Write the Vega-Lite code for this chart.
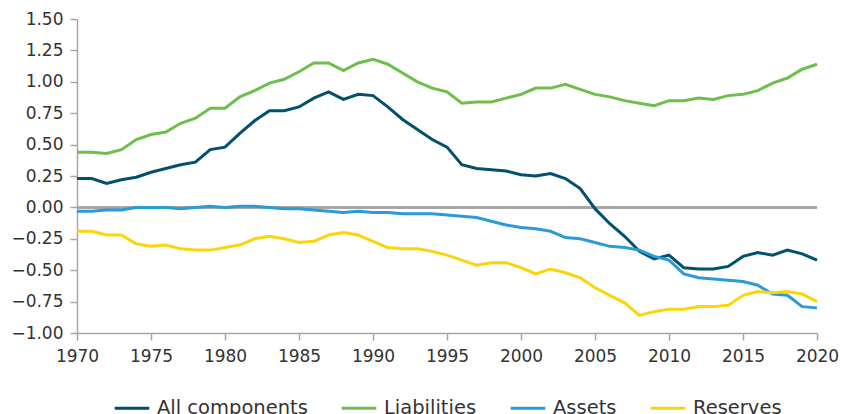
{
  "$schema": "https://vega.github.io/schema/vega-lite/v6.json",
  "width": 740,
  "height": 314,
  "autosize": "none",
  "padding": {"left": 77, "top": 19, "right": 25, "bottom": 81},
  "background": "white",
  "config": {
    "view": {"stroke": null},
    "font": "DejaVu Sans",
    "axis": {
      "labelFont": "DejaVu Sans",
      "labelFontSize": 17,
      "labelColor": "#333333",
      "domainColor": "#a6a6a6",
      "tickColor": "#a6a6a6",
      "domainWidth": 1.5,
      "tickWidth": 1.5,
      "tickSize": 7,
      "grid": false,
      "title": null,
      "labelOverlap": false
    },
    "legend": {
      "labelFont": "DejaVu Sans",
      "labelFontSize": 19.5,
      "labelColor": "#333333"
    }
  },
  "data": {
    "values": [
      {"year": 1970, "All components": 0.23, "Liabilities": 0.44, "Assets": -0.03, "Reserves": -0.19},
      {"year": 1971, "All components": 0.23, "Liabilities": 0.44, "Assets": -0.03, "Reserves": -0.19},
      {"year": 1972, "All components": 0.19, "Liabilities": 0.43, "Assets": -0.02, "Reserves": -0.22},
      {"year": 1973, "All components": 0.22, "Liabilities": 0.46, "Assets": -0.02, "Reserves": -0.22},
      {"year": 1974, "All components": 0.24, "Liabilities": 0.54, "Assets": 0.0, "Reserves": -0.29},
      {"year": 1975, "All components": 0.28, "Liabilities": 0.58, "Assets": 0.0, "Reserves": -0.31},
      {"year": 1976, "All components": 0.31, "Liabilities": 0.60, "Assets": 0.0, "Reserves": -0.30},
      {"year": 1977, "All components": 0.34, "Liabilities": 0.67, "Assets": -0.01, "Reserves": -0.33},
      {"year": 1978, "All components": 0.36, "Liabilities": 0.71, "Assets": 0.0, "Reserves": -0.34},
      {"year": 1979, "All components": 0.46, "Liabilities": 0.79, "Assets": 0.01, "Reserves": -0.34},
      {"year": 1980, "All components": 0.48, "Liabilities": 0.79, "Assets": 0.0, "Reserves": -0.32},
      {"year": 1981, "All components": 0.59, "Liabilities": 0.88, "Assets": 0.01, "Reserves": -0.30},
      {"year": 1982, "All components": 0.69, "Liabilities": 0.93, "Assets": 0.01, "Reserves": -0.25},
      {"year": 1983, "All components": 0.77, "Liabilities": 0.99, "Assets": 0.0, "Reserves": -0.23},
      {"year": 1984, "All components": 0.77, "Liabilities": 1.02, "Assets": -0.01, "Reserves": -0.25},
      {"year": 1985, "All components": 0.80, "Liabilities": 1.08, "Assets": -0.01, "Reserves": -0.28},
      {"year": 1986, "All components": 0.87, "Liabilities": 1.15, "Assets": -0.02, "Reserves": -0.27},
      {"year": 1987, "All components": 0.92, "Liabilities": 1.15, "Assets": -0.03, "Reserves": -0.22},
      {"year": 1988, "All components": 0.86, "Liabilities": 1.09, "Assets": -0.04, "Reserves": -0.20},
      {"year": 1989, "All components": 0.90, "Liabilities": 1.15, "Assets": -0.03, "Reserves": -0.22},
      {"year": 1990, "All components": 0.89, "Liabilities": 1.18, "Assets": -0.04, "Reserves": -0.27},
      {"year": 1991, "All components": 0.80, "Liabilities": 1.14, "Assets": -0.04, "Reserves": -0.32},
      {"year": 1992, "All components": 0.70, "Liabilities": 1.07, "Assets": -0.05, "Reserves": -0.33},
      {"year": 1993, "All components": 0.62, "Liabilities": 1.00, "Assets": -0.05, "Reserves": -0.33},
      {"year": 1994, "All components": 0.54, "Liabilities": 0.95, "Assets": -0.05, "Reserves": -0.35},
      {"year": 1995, "All components": 0.48, "Liabilities": 0.92, "Assets": -0.06, "Reserves": -0.38},
      {"year": 1996, "All components": 0.34, "Liabilities": 0.83, "Assets": -0.07, "Reserves": -0.42},
      {"year": 1997, "All components": 0.31, "Liabilities": 0.84, "Assets": -0.08, "Reserves": -0.46},
      {"year": 1998, "All components": 0.30, "Liabilities": 0.84, "Assets": -0.11, "Reserves": -0.44},
      {"year": 1999, "All components": 0.29, "Liabilities": 0.87, "Assets": -0.14, "Reserves": -0.44},
      {"year": 2000, "All components": 0.26, "Liabilities": 0.90, "Assets": -0.16, "Reserves": -0.48},
      {"year": 2001, "All components": 0.25, "Liabilities": 0.95, "Assets": -0.17, "Reserves": -0.53},
      {"year": 2002, "All components": 0.27, "Liabilities": 0.95, "Assets": -0.19, "Reserves": -0.49},
      {"year": 2003, "All components": 0.23, "Liabilities": 0.98, "Assets": -0.24, "Reserves": -0.52},
      {"year": 2004, "All components": 0.15, "Liabilities": 0.94, "Assets": -0.25, "Reserves": -0.56},
      {"year": 2005, "All components": -0.01, "Liabilities": 0.90, "Assets": -0.28, "Reserves": -0.64},
      {"year": 2006, "All components": -0.13, "Liabilities": 0.88, "Assets": -0.31, "Reserves": -0.70},
      {"year": 2007, "All components": -0.23, "Liabilities": 0.85, "Assets": -0.32, "Reserves": -0.76},
      {"year": 2008, "All components": -0.35, "Liabilities": 0.83, "Assets": -0.34, "Reserves": -0.86},
      {"year": 2009, "All components": -0.41, "Liabilities": 0.81, "Assets": -0.39, "Reserves": -0.83},
      {"year": 2010, "All components": -0.38, "Liabilities": 0.85, "Assets": -0.42, "Reserves": -0.81},
      {"year": 2011, "All components": -0.48, "Liabilities": 0.85, "Assets": -0.53, "Reserves": -0.81},
      {"year": 2012, "All components": -0.49, "Liabilities": 0.87, "Assets": -0.56, "Reserves": -0.79},
      {"year": 2013, "All components": -0.49, "Liabilities": 0.86, "Assets": -0.57, "Reserves": -0.79},
      {"year": 2014, "All components": -0.47, "Liabilities": 0.89, "Assets": -0.58, "Reserves": -0.78},
      {"year": 2015, "All components": -0.39, "Liabilities": 0.90, "Assets": -0.59, "Reserves": -0.70},
      {"year": 2016, "All components": -0.36, "Liabilities": 0.93, "Assets": -0.62, "Reserves": -0.67},
      {"year": 2017, "All components": -0.38, "Liabilities": 0.99, "Assets": -0.69, "Reserves": -0.68},
      {"year": 2018, "All components": -0.34, "Liabilities": 1.03, "Assets": -0.70, "Reserves": -0.67},
      {"year": 2019, "All components": -0.37, "Liabilities": 1.10, "Assets": -0.79, "Reserves": -0.69},
      {"year": 2020, "All components": -0.42, "Liabilities": 1.14, "Assets": -0.80, "Reserves": -0.75}
    ]
  },
  "layer": [
    {
      "mark": {"type": "rule", "color": "#a6a6a6", "strokeWidth": 1.5},
      "encoding": {
        "y": {"datum": 0, "type": "quantitative", "scale": {"domain": [-1, 1.5]}}
      }
    },
    {
      "transform": [
        {"fold": ["All components", "Liabilities", "Assets", "Reserves"], "as": ["series", "value"]}
      ],
      "mark": {"type": "line", "strokeWidth": 3},
      "encoding": {
        "x": {
          "field": "year",
          "type": "quantitative",
          "scale": {"domain": [1970, 2020], "nice": false, "zero": false},
          "axis": {"values": [1970, 1975, 1980, 1985, 1990, 1995, 2000, 2005, 2010, 2015, 2020], "format": "d", "labelPadding": 8, "labelFlush": false, "labelOverlap": false}
        },
        "y": {
          "field": "value",
          "type": "quantitative",
          "scale": {"domain": [-1, 1.5], "nice": false},
          "axis": {"values": [-1, -0.75, -0.5, -0.25, 0, 0.25, 0.5, 0.75, 1, 1.25, 1.5], "format": ".2f", "labelPadding": 7, "labelOverlap": false, "labelFlush": false, "tickCount": 11}
        },
        "color": {
          "field": "series",
          "type": "nominal",
          "scale": {
            "domain": ["All components", "Liabilities", "Assets", "Reserves"],
            "range": ["#00506e", "#6cbf4b", "#2b9ad8", "#fcd40a"]
          },
          "legend": {
            "title": null,
            "orient": "none",
            "direction": "horizontal",
            "legendX": 36,
            "legendY": 370,
            "symbolType": "stroke",
            "symbolSize": 1200,
            "symbolStrokeWidth": 3,
            "labelOffset": 6,
            "columnPadding": 27
          }
        }
      }
    }
  ]
}
